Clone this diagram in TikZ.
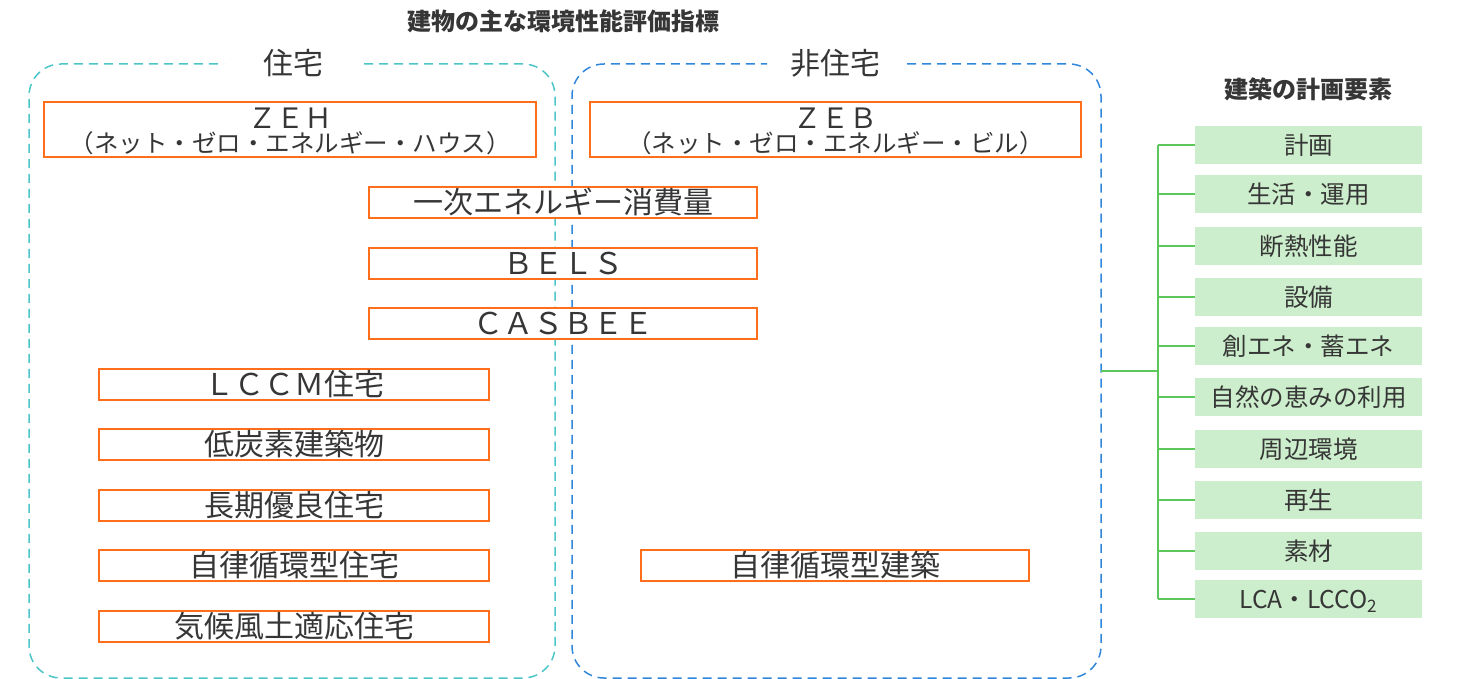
\documentclass[tikz,border=0pt]{standalone}
\usepackage{fontspec}
\setmainfont{Noto Sans CJK JP}
\definecolor{tealc}{HTML}{4CC4C8}
\definecolor{bluec}{HTML}{2F86DB}
\definecolor{orng}{HTML}{FF6E1A}
\definecolor{gfill}{HTML}{CCEECC}
\definecolor{glc}{HTML}{5CC85C}
\definecolor{txt}{HTML}{363636}
\tikzset{
  obox/.style={draw=orng, line width=2pt, fill=white, inner sep=0pt, text=txt,
    font=\fontsize{30}{30}\selectfont, text height=26pt, text depth=4pt,
    minimum width=388pt, minimum height=31pt},
  gbox/.style={fill=gfill, minimum width=227pt, minimum height=38pt, inner sep=0pt,
    text=txt, font=\fontsize{24.5}{24.5}\selectfont, text height=21.5pt, text depth=3pt},
  glink/.style={draw=glc, line width=1.5pt},
  dashbox/.style={line width=1.5pt, dash pattern=on 9pt off 6pt, rounded corners=32pt},
  lbl/.style={inner sep=0pt, text=txt},
  ttl/.style={inner sep=0pt, text=txt, font=\fontsize{24}{24}\selectfont\bfseries}
}
\begin{document}
\begin{tikzpicture}[x=1pt,y=-1pt]
\useasboundingbox (0,0) rectangle (1459,679);
% titles
\node[ttl] (title) at (563,21) {建物の主な環境性能評価指標};
\node[ttl] (title2) at (1308,89) {建築の計画要素};
% dashed containers
\draw[dashbox, draw=tealc] (364,64) -- (555,64) -- (555,678) -- (29,678) -- (29,64) -- (224,64);
\draw[dashbox, draw=bluec] (907,64) -- (1101,64) -- (1101,678) -- (572,678) -- (572,64) -- (767,64);
\node[lbl, font=\fontsize{30}{30}\selectfont] (jutaku) at (293,63) {住宅};
\node[lbl, font=\fontsize{30}{30}\selectfont] (hijutaku) at (835,63) {非住宅};
% ZEH / ZEB
\node[obox, minimum width=492pt, minimum height=55pt] (zeh) at (290,129.5) {};
\node[lbl, font=\fontsize{28}{28}\selectfont] (zehA) at (290,118) {ＺＥＨ};
\node[lbl, font=\fontsize{24.5}{24.5}\selectfont] (zehB) at (290,143) {（ネット・ゼロ・エネルギー・ハウス）};
\node[obox, minimum width=491pt, minimum height=55pt] (zeb) at (835.5,129.5) {};
\node[lbl, font=\fontsize{28}{28}\selectfont] (zebA) at (835.5,118) {ＺＥＢ};
\node[lbl, font=\fontsize{24.5}{24.5}\selectfont] (zebB) at (835.5,143) {（ネット・ゼロ・エネルギー・ビル）};
% shared
\node[obox] (ichiji) at (563,202.5) {一次エネルギー消費量};
\node[obox] (bels) at (563,263) {ＢＥＬＳ};
\node[obox] (casbee) at (563,323.5) {ＣＡＳＢＥＥ};
% residential
\node[obox, minimum width=390pt] (lccm) at (294,384.5) {ＬＣＣＭ住宅};
\node[obox, minimum width=390pt] (teitanso) at (294,444.5) {低炭素建築物};
\node[obox, minimum width=390pt] (choki) at (294,505) {長期優良住宅};
\node[obox, minimum width=390pt] (jiritsu) at (294,565.5) {自律循環型住宅};
\node[obox, minimum width=390pt] (kiko) at (294,626) {気候風土適応住宅};
% non-residential
\node[obox] (jiritsuK) at (835,565.5) {自律循環型建築};
% planning elements
\node[gbox] (g1) at (1308.5,145) {計画};
\node[gbox] (g2) at (1308.5,194) {生活・運用};
\node[gbox] (g3) at (1308.5,246) {断熱性能};
\node[gbox] (g4) at (1308.5,297) {設備};
\node[gbox] (g5) at (1308.5,346) {創エネ・蓄エネ};
\node[gbox] (g6) at (1308.5,397) {自然の恵みの利用};
\node[gbox] (g7) at (1308.5,449) {周辺環境};
\node[gbox] (g8) at (1308.5,500) {再生};
\node[gbox] (g9) at (1308.5,551) {素材};
\node[gbox] (g10) at (1308.5,599) {LCA・LCCO\textsubscript{2}};
% tree
\coordinate (root) at (1101,371);
\coordinate (trunk) at (1158,371);
\draw[glink] (root) -- (trunk);
\draw[glink] (g1.west -| trunk) -- (g10.west -| trunk);
\foreach \i in {1,...,10} {\draw[glink] (g\i.west) -- (g\i.west -| trunk);}
\end{tikzpicture}
\end{document}
